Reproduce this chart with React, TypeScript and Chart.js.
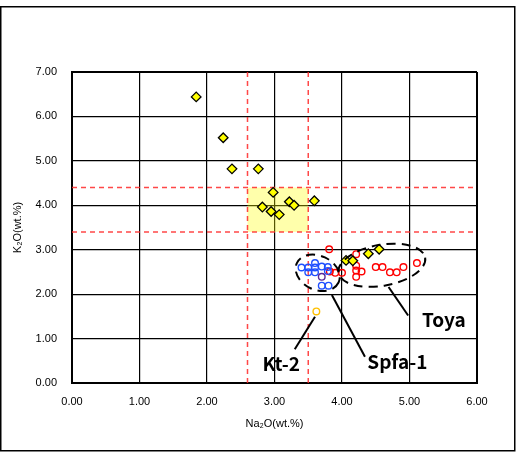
import React, { useEffect, useRef } from "react";
import { Chart, registerables } from "chart.js";

Chart.register(...registerables);

// ---- axis ticks ----
const X_TICKS = [0, 1, 2, 3, 4, 5, 6];
const Y_TICKS = [0, 1, 2, 3, 4, 5, 6, 7];
const X_TITLE = "Na\u2082O(wt.%)";
const Y_TITLE = "K\u2082O(wt.%)";

// ---- series: yellow diamonds ----
const diamondX = [1.84, 2.24, 2.37, 2.76, 2.98, 2.82, 2.95, 3.07, 3.22, 3.29, 3.59, 4.06, 4.16, 4.39, 4.55];
const diamondY = [6.44, 5.52, 4.82, 4.82, 4.29, 3.96, 3.86, 3.79, 4.08, 4.0, 4.1, 2.76, 2.75, 2.91, 3.01];

// ---- series: red circles (Toya) ----
const redX = [3.81, 4.21, 3.82, 3.9, 4.0, 4.21, 4.21, 4.21, 4.29, 4.5, 4.6, 4.71, 4.81, 4.91, 5.11];
const redY = [3.01, 2.9, 2.51, 2.48, 2.48, 2.64, 2.53, 2.39, 2.51, 2.61, 2.61, 2.49, 2.49, 2.61, 2.7];

// ---- series: blue circles (Spfa-1) ----
const blueX = [3.4, 3.5, 3.6, 3.6, 3.6, 3.5, 3.7, 3.79, 3.79, 3.7, 3.8, 3.7];
const blueY = [2.6, 2.6, 2.7, 2.6, 2.49, 2.49, 2.62, 2.61, 2.52, 2.19, 2.19, 2.39];

// ---- series: orange circle (Kt-2) ----
const orangeX = [3.62];
const orangeY = [1.61];

// ---- reference lines / box ----
const REF_X = [2.6, 3.5];
const REF_Y = [3.4, 4.4];

// ---- annotations ----
const LABELS = [
  { text: "Kt-2", x: 3.1, y: 0.43 },
  { text: "Spfa-1", x: 4.82, y: 0.47 },
  { text: "Toya", x: 5.51, y: 1.42 },
];
const LEADERS = [
  { x1: 3.3, y1: 0.76, x2: 3.6, y2: 1.49 },
  { x1: 4.34, y1: 0.59, x2: 3.85, y2: 1.98 },
  { x1: 4.98, y1: 1.52, x2: 4.69, y2: 2.16 },
];
const ELLIPSES = [
  { cx: 3.64, cy: 2.48, rx: 23, ry: 17, rot: 25 },
  { cx: 4.59, cy: 2.65, rx: 44, ry: 20.5, rot: -10 },
];

const zip = (xs: number[], ys: number[]) => xs.map((x, i) => ({ x, y: ys[i] }));

const annotPlugin = {
  id: "annot",
  beforeDraw(chart: any) {
    const ctx = chart.ctx;
    ctx.save();
    ctx.fillStyle = "#fff";
    ctx.fillRect(0, 0, chart.width, chart.height);
    ctx.strokeStyle = "#000";
    ctx.lineWidth = 1.5;
    ctx.strokeRect(0.75, 6.75, 514, 444);
    ctx.restore();
  },
  beforeDatasetsDraw(chart: any) {
    const ctx = chart.ctx;
    const xs = chart.scales.x;
    const ys = chart.scales.y;
    const area = chart.chartArea;
    ctx.save();
    const x0 = xs.getPixelForValue(REF_X[0]);
    const x1 = xs.getPixelForValue(REF_X[1]);
    const y0 = ys.getPixelForValue(REF_Y[0]);
    const y1 = ys.getPixelForValue(REF_Y[1]);
    ctx.fillStyle = "rgba(255,255,0,0.33)";
    ctx.fillRect(x0, y1, x1 - x0, y0 - y1);
    ctx.strokeStyle = "rgba(255,40,40,0.85)";
    ctx.lineWidth = 1.5;
    ctx.setLineDash([5, 4]);
    REF_X.forEach((v) => {
      const p = xs.getPixelForValue(v);
      ctx.beginPath();
      ctx.moveTo(p, area.top);
      ctx.lineTo(p, area.bottom);
      ctx.stroke();
    });
    REF_Y.forEach((v) => {
      const p = ys.getPixelForValue(v);
      ctx.beginPath();
      ctx.moveTo(area.left, p);
      ctx.lineTo(area.right, p);
      ctx.stroke();
    });
    ctx.restore();
  },
  afterDatasetsDraw(chart: any) {
    const ctx = chart.ctx;
    const xs = chart.scales.x;
    const ys = chart.scales.y;
    ctx.save();
    ctx.strokeStyle = "#000";
    ctx.lineWidth = 2;
    ctx.setLineDash([9, 6]);
    ELLIPSES.forEach((e) => {
      ctx.beginPath();
      ctx.ellipse(xs.getPixelForValue(e.cx), ys.getPixelForValue(e.cy), e.rx, e.ry, (e.rot * Math.PI) / 180, 0, Math.PI * 2);
      ctx.stroke();
    });
    ctx.setLineDash([]);
    ctx.lineWidth = 2;
    LEADERS.forEach((l) => {
      ctx.beginPath();
      ctx.moveTo(xs.getPixelForValue(l.x1), ys.getPixelForValue(l.y1));
      ctx.lineTo(xs.getPixelForValue(l.x2), ys.getPixelForValue(l.y2));
      ctx.stroke();
    });
    ctx.fillStyle = "#000";
    ctx.font = 'bold 19px "Noto Sans CJK JP", "Noto Sans", sans-serif';
    ctx.textAlign = "center";
    ctx.textBaseline = "middle";
    LABELS.forEach((t) => {
      ctx.fillText(t.text, xs.getPixelForValue(t.x), ys.getPixelForValue(t.y));
    });
    ctx.restore();
  },
};

const tickFont = { family: '"Liberation Sans", Arial, sans-serif', size: 11 };

export default function App() {
  const ref = useRef<HTMLCanvasElement | null>(null);
  useEffect(() => {
    if (!ref.current) return;
    const edgeWidth = (max: number) => (c: any) =>
      c.tick && (c.tick.value === 0 || c.tick.value === max) ? 2 : 1.2;
    const chart = new Chart(ref.current, {
      type: "scatter",
      data: {
        datasets: [
          {
            data: zip(diamondX, diamondY),
            pointStyle: "rectRot",
            pointRadius: 4.8,
            pointBackgroundColor: "#FFFF00",
            pointBorderColor: "#000",
            pointBorderWidth: 1.3,
          },
          {
            data: zip(orangeX, orangeY),
            pointRadius: 3.3,
            pointBackgroundColor: "rgba(255,255,255,0)",
            pointBorderColor: "#FFC000",
            pointBorderWidth: 1.4,
          },
          {
            data: zip(blueX, blueY),
            pointRadius: 3.3,
            pointBackgroundColor: "rgba(255,255,255,0)",
            pointBorderColor: blueX.map((_, i) => (i === blueX.length - 1 ? "#5a2a9a" : "#1f4fff")),
            pointBorderWidth: 1.4,
          },
          {
            data: zip(redX, redY),
            pointRadius: 3.3,
            pointBackgroundColor: "rgba(255,255,255,0)",
            pointBorderColor: "#FF0000",
            pointBorderWidth: 1.4,
          },
        ],
      },
      options: {
        responsive: false,
        animation: false,
        devicePixelRatio: 1,
        layout: { padding: { top: 72, right: 40, left: 0, bottom: 0 } },
        plugins: { legend: { display: false }, tooltip: { enabled: false } },
        scales: {
          x: {
            type: "linear",
            min: 0,
            max: 6,
            afterBuildTicks: (s: any) => {
              s.ticks = X_TICKS.map((v) => ({ value: v }));
            },
            afterFit: (s: any) => {
              s.height = 70;
            },
            ticks: {
              callback: (v: any) => Number(v).toFixed(2),
              padding: 12,
              font: tickFont,
              color: "#000",
              maxRotation: 0,
              autoSkip: false,
            },
            grid: { color: "#000", lineWidth: edgeWidth(6), drawTicks: false },
            border: { color: "#000", width: 2 },
            title: {
              display: true,
              text: X_TITLE,
              font: tickFont,
              color: "#000",
              padding: { top: 0, bottom: 22 },
            },
          },
          y: {
            type: "linear",
            min: 0,
            max: 7,
            afterBuildTicks: (s: any) => {
              s.ticks = Y_TICKS.map((v) => ({ value: v }));
            },
            afterFit: (s: any) => {
              s.width = 72;
            },
            ticks: {
              callback: (v: any) => Number(v).toFixed(2),
              padding: 15,
              font: tickFont,
              color: "#000",
              autoSkip: false,
            },
            grid: { color: "#000", lineWidth: edgeWidth(7), drawTicks: false },
            border: { color: "#000", width: 2 },
            title: {
              display: true,
              text: Y_TITLE,
              font: tickFont,
              color: "#000",
              padding: { top: 11, bottom: 0 },
            },
          },
        },
      },
      plugins: [annotPlugin],
    } as any);
    return () => chart.destroy();
  }, []);
  return (
    <div style={{ position: "fixed", left: 0, top: 0, width: 517, height: 453, background: "#fff" }}>
      <canvas ref={ref} width={517} height={453} style={{ display: "block" }} />
    </div>
  );
}
